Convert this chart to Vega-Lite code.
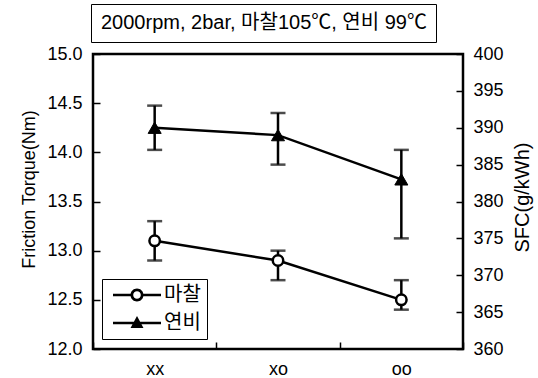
{
  "$schema": "https://vega.github.io/schema/vega-lite/v6.json",
  "width": 370,
  "height": 295,
  "autosize": {"type": "none"},
  "padding": {"left": 93, "top": 54, "right": 75, "bottom": 29},
  "background": "white",
  "config": {
    "font": "Liberation Sans, Noto Sans CJK KR",
    "view": {"stroke": "black", "strokeWidth": 2.5},
    "axis": {
      "grid": false,
      "domain": false,
      "tickColor": "black",
      "tickSize": -7,
      "tickWidth": 1.5,
      "labelColor": "black",
      "titleColor": "black",
      "labelFontSize": 18,
      "titleFontSize": 18,
      "titleFontWeight": "normal",
      "labelOverlap": false
    }
  },
  "data": {
    "values": [
      {"cond": "xx", "friction": 13.1, "f_lo": 12.9, "f_hi": 13.3, "sfc": 390, "s_lo": 387, "s_hi": 393},
      {"cond": "xo", "friction": 12.9, "f_lo": 12.7, "f_hi": 13.0, "sfc": 389, "s_lo": 385, "s_hi": 392},
      {"cond": "oo", "friction": 12.5, "f_lo": 12.4, "f_hi": 12.7, "sfc": 383, "s_lo": 375, "s_hi": 387}
    ]
  },
  "layer": [
    {
      "layer": [
        {
          "mark": {"type": "line", "strokeWidth": 2.5},
          "encoding": {
            "x": {"field": "cond", "type": "nominal", "sort": ["xx", "xo", "oo"], "scale": {"type": "band", "paddingInner": 0, "paddingOuter": 0},
                  "axis": {"title": null, "labelAngle": 0, "tickBand": "extent", "labelPadding": 18}},
            "y": {"field": "friction", "type": "quantitative", "title": "Friction Torque(Nm)", "scale": {"domain": [12, 15], "nice": false, "zero": false},
                  "axis": {"values": [12, 12.5, 13, 13.5, 14, 14.5, 15], "format": ".1f", "labelPadding": 18, "titlePadding": 8, "titleY": 135}},
            "color": {"datum": "2000rpm, 2bar, 마찰105℃, 연비 99℃", "scale": {"range": ["black"]},
                      "legend": {"orient": "none", "legendX": -2, "legendY": -50, "title": null, "strokeColor": "black", "padding": 9, "symbolSize": 1, "symbolType": "circle", "symbolOpacity": 0, "symbolStrokeWidth": 0, "labelOffset": -19, "labelFontSize": 20, "labelLimit": 1000}}
          }
        },
        {
          "mark": {"type": "errorbar", "ticks": true, "size": 15, "thickness": 2.5, "color": "black"},
          "encoding": {
            "x": {"field": "cond", "type": "nominal", "sort": ["xx", "xo", "oo"]},
            "y": {"field": "f_lo", "type": "quantitative", "title": "Friction Torque(Nm)",
                  "axis": {"values": [12, 12.5, 13, 13.5, 14, 14.5, 15], "format": ".1f", "labelPadding": 18, "titlePadding": 8, "titleY": 135}},
            "y2": {"field": "f_hi"}
          }
        },
        {
          "mark": {"type": "point", "shape": "circle", "filled": true, "fill": "white", "stroke": "black", "strokeWidth": 2.5, "size": 110, "opacity": 1},
          "encoding": {
            "x": {"field": "cond", "type": "nominal", "sort": ["xx", "xo", "oo"]},
            "y": {"field": "friction", "type": "quantitative", "title": "Friction Torque(Nm)",
                  "axis": {"values": [12, 12.5, 13, 13.5, 14, 14.5, 15], "format": ".1f", "labelPadding": 18, "titlePadding": 8, "titleY": 135}}
          }
        },
        {
          "mark": {"type": "point", "filled": true, "color": "black", "strokeWidth": 0, "size": 0, "opacity": 1},
          "encoding": {
            "x": {"field": "cond", "type": "nominal", "sort": ["xx", "xo", "oo"]},
            "y": {"field": "friction", "type": "quantitative", "title": "Friction Torque(Nm)",
                  "axis": {"values": [12, 12.5, 13, 13.5, 14, 14.5, 15], "format": ".1f", "labelPadding": 18, "titlePadding": 8, "titleY": 135}},
            "shape": {"datum": "마찰",
                      "scale": {"domain": ["마찰", "연비"], "range": [
                        "M-4.8,-0.25H-1.2V0.25H-4.8Z M1.2,-0.25H4.8V0.25H1.2Z M1.3,0A1.3,1.3 0 1,1 -1.3,0A1.3,1.3 0 1,1 1.3,0Z M0.76,0A0.76,0.76 0 1,0 -0.76,0A0.76,0.76 0 1,0 0.76,0Z",
                        "M-4.8,-0.25H4.8V0.25H-4.8Z M0,-1.4L1.3,1L-1.3,1Z"]},
                      "legend": {"orient": "none", "legendX": 9, "legendY": 225, "title": null, "strokeColor": "black", "padding": 6, "symbolSize": 100, "symbolOffset": 19, "labelOffset": 17, "labelFontSize": 20, "rowPadding": 8, "symbolFillColor": "black", "symbolStrokeWidth": 0, "symbolOpacity": 1}}
          }
        }
      ]
    },
    {
      "layer": [
        {
          "mark": {"type": "line", "strokeWidth": 2.5, "color": "black"},
          "encoding": {
            "x": {"field": "cond", "type": "nominal", "sort": ["xx", "xo", "oo"]},
            "y": {"field": "sfc", "type": "quantitative", "title": "SFC(g/kWh)", "scale": {"domain": [360, 400], "nice": false, "zero": false},
                  "axis": {"orient": "right", "titleAngle": 270, "titleFontSize": 20, "values": [360, 365, 370, 375, 380, 385, 390, 395, 400], "labelPadding": 17, "titlePadding": 29, "titleY": 143}}
          }
        },
        {
          "mark": {"type": "errorbar", "ticks": true, "size": 15, "thickness": 2.5, "color": "black"},
          "encoding": {
            "x": {"field": "cond", "type": "nominal", "sort": ["xx", "xo", "oo"]},
            "y": {"field": "s_lo", "type": "quantitative", "title": "SFC(g/kWh)",
                  "axis": {"orient": "right", "titleAngle": 270, "titleFontSize": 20, "values": [360, 365, 370, 375, 380, 385, 390, 395, 400], "labelPadding": 17, "titlePadding": 29, "titleY": 143}},
            "y2": {"field": "s_hi"}
          }
        },
        {
          "mark": {"type": "point", "shape": "triangle-up", "filled": true, "fill": "black", "stroke": "black", "strokeWidth": 1, "size": 170, "opacity": 1},
          "encoding": {
            "x": {"field": "cond", "type": "nominal", "sort": ["xx", "xo", "oo"]},
            "y": {"field": "sfc", "type": "quantitative", "title": "SFC(g/kWh)",
                  "axis": {"orient": "right", "titleAngle": 270, "titleFontSize": 20, "values": [360, 365, 370, 375, 380, 385, 390, 395, 400], "labelPadding": 17, "titlePadding": 29, "titleY": 143}}
          }
        },
        {
          "mark": {"type": "point", "filled": true, "color": "black", "strokeWidth": 0, "size": 0, "opacity": 1},
          "encoding": {
            "x": {"field": "cond", "type": "nominal", "sort": ["xx", "xo", "oo"]},
            "y": {"field": "sfc", "type": "quantitative", "title": "SFC(g/kWh)",
                  "axis": {"orient": "right", "titleAngle": 270, "titleFontSize": 20, "values": [360, 365, 370, 375, 380, 385, 390, 395, 400], "labelPadding": 17, "titlePadding": 29, "titleY": 143}},
            "shape": {"datum": "연비",
                      "legend": {"orient": "none", "legendX": 9, "legendY": 225, "title": null, "strokeColor": "black", "padding": 6, "symbolSize": 100, "symbolOffset": 19, "labelOffset": 17, "labelFontSize": 20, "rowPadding": 8, "symbolFillColor": "black", "symbolStrokeWidth": 0, "symbolOpacity": 1}}
          }
        }
      ]
    }
  ],
  "resolve": {"scale": {"y": "independent"}}
}
